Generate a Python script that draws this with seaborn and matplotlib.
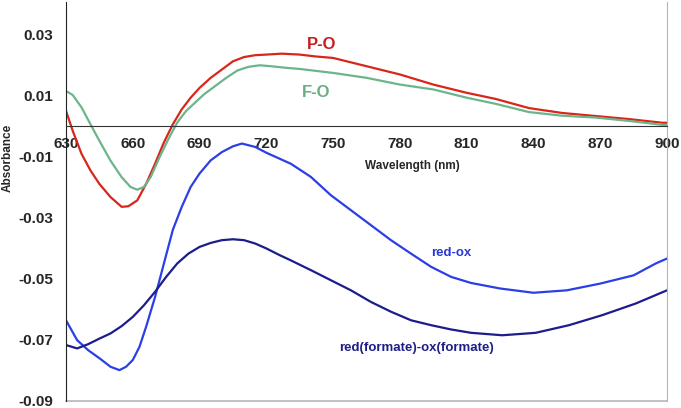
import seaborn as sns
import numpy as np
import matplotlib.pyplot as plt
import pandas as pd

# P-O difference spectrum (red)
wl_po = [630, 633, 637, 641, 645, 650, 655, 658, 662, 666, 670, 674, 678, 682, 686,
         690, 695, 700, 705, 710, 715, 720, 727, 735, 742, 750, 765, 780, 795, 810,
         823, 838, 853, 868, 883, 898, 900]
abs_po = [0.0049, -0.0016, -0.0092, -0.0146, -0.019, -0.0233, -0.0265, -0.0263, -0.0244,
          -0.019, -0.0124, -0.0054, 0.0005, 0.0054, 0.0092, 0.0124, 0.0157, 0.0184, 0.0211,
          0.0225, 0.0231, 0.0233, 0.0236, 0.0233, 0.0227, 0.0222, 0.0195, 0.0168, 0.0135,
          0.0108, 0.0088, 0.0058, 0.0042, 0.0032, 0.0022, 0.0010, 0.0010]

# F-O difference spectrum (green)
wl_fo = [630, 633, 637, 641, 645, 650, 655, 659, 662, 665, 668, 672, 676, 680, 684,
         688, 692, 697, 702, 707, 712, 717, 722, 730, 735, 750, 765, 780, 795, 810,
         823, 838, 853, 868, 883, 898, 900]
abs_fo = [0.0114, 0.0101, 0.006, 0.0005, -0.0049, -0.0114, -0.0168, -0.02, -0.0209, -0.02,
          -0.0168, -0.0103, -0.0043, 0.0011, 0.0049, 0.0076, 0.0103, 0.013, 0.0157, 0.0181,
          0.0193, 0.0198, 0.0195, 0.0189, 0.0186, 0.0173, 0.0157, 0.0135, 0.0119, 0.0092,
          0.0072, 0.0045, 0.0033, 0.0027, 0.0016, 0.0003, 0.0003]

# red-ox (blue)
wl_ro = [630, 635, 640, 645, 650, 654, 657, 660, 663, 666, 670, 674, 678, 682, 686, 690,
         695, 700, 705, 709, 715, 720, 731, 740, 749, 758, 767, 776, 785, 794, 803, 812,
         825, 840, 855, 870, 885, 895, 900]
abs_ro = [-0.0636, -0.0701, -0.0734, -0.076, -0.0788, -0.0799, -0.0788, -0.0766, -0.0723,
          -0.0657, -0.056, -0.045, -0.034, -0.0265, -0.020, -0.0156, -0.0113, -0.0086,
          -0.0067, -0.0058, -0.0069, -0.0088, -0.0124, -0.0167, -0.0227, -0.0276, -0.0325,
          -0.0374, -0.0418, -0.0461, -0.0494, -0.0514, -0.0532, -0.0546, -0.0538, -0.0516,
          -0.0489, -0.045, -0.0434]

# red(formate)-ox(formate) (navy)
wl_rf = [630, 635, 640, 645, 650, 655, 660, 665, 670, 675, 680, 685, 690, 695, 700, 705,
         710, 715, 720, 726, 731, 740, 749, 758, 767, 776, 785, 794, 803, 812, 826, 841,
         856, 871, 886, 900]
abs_rf = [-0.0717, -0.0728, -0.0714, -0.0696, -0.0679, -0.0655, -0.0625, -0.0587, -0.0543,
          -0.0494, -0.045, -0.0418, -0.0396, -0.0383, -0.0374, -0.0371, -0.0374, -0.0385,
          -0.0401, -0.0423, -0.044, -0.0472, -0.0505, -0.0538, -0.0576, -0.0608, -0.0636,
          -0.0652, -0.0666, -0.0677, -0.0685, -0.0677, -0.0652, -0.0619, -0.0581, -0.0538]

series = ["P-O", "F-O", "red-ox", "red(formate)-ox(formate)"]
colors = {"P-O": "#d8261b", "F-O": "#6cb58b",
          "red-ox": "#2b3fe6", "red(formate)-ox(formate)": "#1c1c8c"}
text_colors = {"P-O": "#c41f1f", "F-O": "#6aad84",
               "red-ox": "#2a38d4", "red(formate)-ox(formate)": "#1e1e88"}

# label positions (wavelength, absorbance)
label_pos = {"P-O": (745, 0.0266), "F-O": (742.5, 0.0108),
             "red-ox": (803, -0.0417), "red(formate)-ox(formate)": (787.3, -0.0727)}

frames = []
for name, wl, ab in zip(series, [wl_po, wl_fo, wl_ro, wl_rf], [abs_po, abs_fo, abs_ro, abs_rf]):
    frames.append(pd.DataFrame({"wl": wl, "abs": ab, "series": name}))
df = pd.concat(frames, ignore_index=True)

sns.set_style("white")
plt.rcParams['font.family'] = ['Liberation Sans', 'DejaVu Sans']
plt.rcParams['font.weight'] = 'bold'

fig = plt.figure(figsize=(6.81, 4.08), dpi=100)
ax = fig.add_axes([66 / 681, 1 - 401 / 408, 601 / 681, 399 / 408])

sns.lineplot(data=df, x="wl", y="abs", hue="series", palette=colors, estimator=None,
             sort=False, legend=False, linewidth=1.6, ax=ax)

ax.set_xlim(630, 900)
ax.set_ylim(-0.09, 0.0405)

# x axis drawn through zero
ax.spines['bottom'].set_position(('data', 0))
ax.spines['bottom'].set_color('#333333')
ax.spines['left'].set_color('#222222')
ax.spines['top'].set_visible(False)
ax.spines['right'].set_color('#b5b5b5')
# grey frame line along the bottom of the plot area
ax.plot([0, 1], [0, 0], transform=ax.transAxes, color='#b5b5b5', lw=1.2, clip_on=False)

ax.set_xticks(np.arange(630, 901, 30))
ax.set_xticks(np.arange(630, 901, 10), minor=True)
ax.set_yticks(np.arange(-0.09, 0.031, 0.02))
ax.set_yticks(np.arange(-0.08, 0.021, 0.02), minor=True)
ax.set_yticklabels([f"{v:.2f}" for v in np.arange(-0.09, 0.031, 0.02)])

ax.tick_params(axis='both', which='both', direction='in', length=3.5, width=1,
               color='#333333', labelsize=11)
ax.tick_params(axis='x', which='both', pad=8)
ax.tick_params(axis='y', which='both', pad=9)
for lab in ax.get_xticklabels() + ax.get_yticklabels():
    lab.set_fontweight('bold')

ax.set_xlabel("Wavelength (nm)", fontsize=8.5, fontweight='bold')
ax.xaxis.label.set_va('center')
ax.xaxis.set_label_coords(0.577, 0.589)
ax.set_ylabel("Absorbance", fontsize=8.5, fontweight='bold')
ax.yaxis.label.set_va('center')
ax.yaxis.set_label_coords(-0.0965, 0.609)

sizes = {"P-O": 12, "F-O": 12, "red-ox": 9.5, "red(formate)-ox(formate)": 9.5}
for name in series:
    x, y = label_pos[name]
    ax.text(x, y, name, color=text_colors[name], fontsize=sizes[name],
            fontweight='bold', ha='center', va='center')

fig.savefig("out.png", dpi=100)
